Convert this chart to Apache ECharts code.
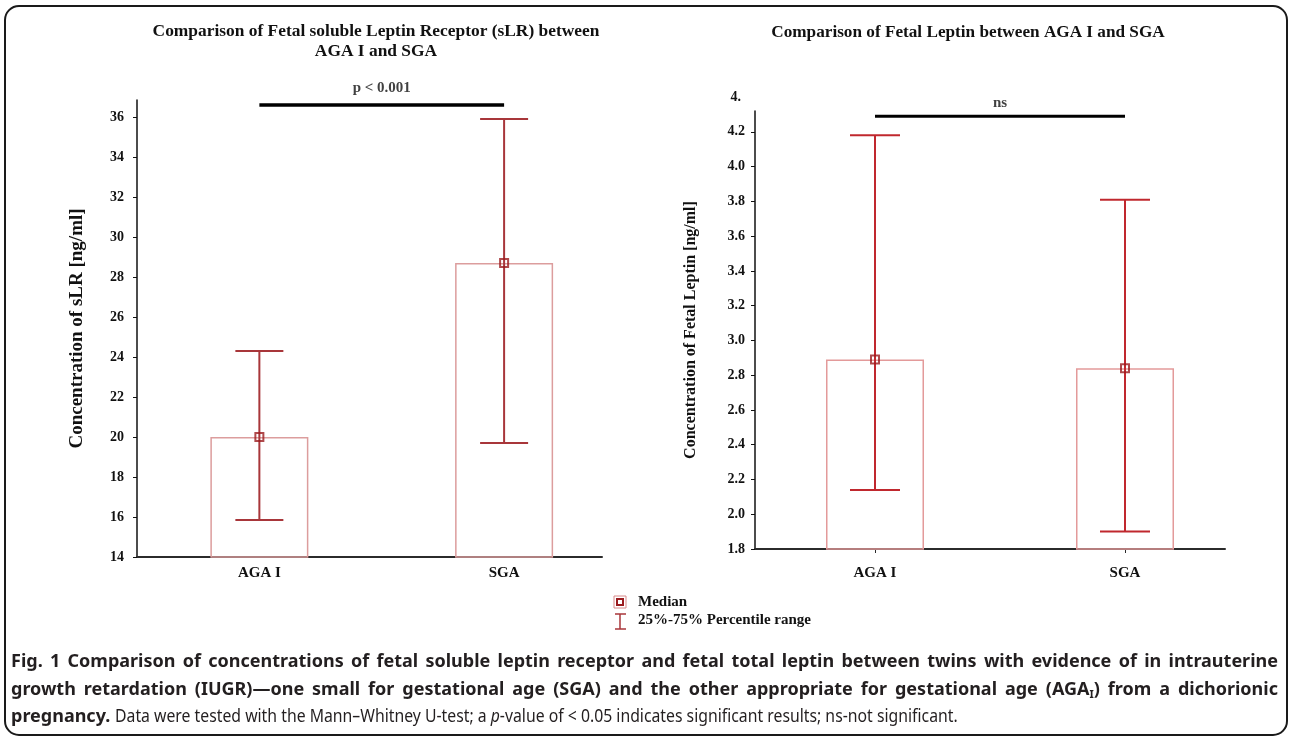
<!DOCTYPE html>
<html>
<head>
<meta charset="utf-8">
<script src="https://cdn.jsdelivr.net/npm/echarts@6.0.0/dist/echarts.min.js"></script>
<style>
html,body{margin:0;padding:0;background:#fff;}
#main{position:absolute;left:0;top:0;width:1290px;height:738px;}
#caption{position:absolute;left:11px;top:647px;width:1267px;font-family:"Noto Sans",sans-serif;font-size:18px;line-height:27.5px;color:#231f20;}
#caption .j{text-align:justify;text-align-last:justify;font-weight:bold;white-space:normal;}
#caption b{font-weight:bold;}
#caption sub{font-size:11px;line-height:0;vertical-align:-3px;}
#caption .thin{display:inline-block;transform:scaleX(0.877);transform-origin:left center;white-space:nowrap;}
</style>
</head>
<body>
<div id="main"></div>
<div id="caption">
<div class="j">Fig. 1 Comparison of concentrations of fetal soluble leptin receptor and fetal total leptin between twins with evidence of in intrauterine</div>
<div class="j">growth retardation (IUGR)—one small for gestational age (SGA) and the other appropriate for gestational age (AGA<sub>I</sub>) from a dichorionic</div>
<div style="white-space:nowrap"><b>pregnancy.</b> <span class="thin">Data were tested with the Mann–Whitney U-test; a <i>p</i>-value of &lt; 0.05 indicates significant results; ns-not significant.</span></div>
</div>
<script>
var categories = ['AGA I', 'SGA'];

// soluble leptin receptor (ng/ml)
var slrMedian = [20.0, 28.7];
var slrLow = [15.85, 19.7];
var slrHigh = [24.3, 35.9];
var slrTicks = [14, 16, 18, 20, 22, 24, 26, 28, 30, 32, 34, 36];
var slrSig = 36.6;

// fetal leptin (ng/ml)
var leptinMedian = [2.89, 2.84];
var leptinLow = [2.14, 1.90];
var leptinHigh = [4.18, 3.81];
var leptinTicks = ['1.8', '2.0', '2.2', '2.4', '2.6', '2.8', '3.0', '3.2', '3.4', '3.6', '3.8', '4.0', '4.2'];
var leptinSig = 4.29;

var serif = '"Liberation Serif", "Times New Roman", serif';

function pairs(vals) {
	return vals.map(function (v, i) { return [i + 1, v]; });
}
function ranges(lo, hi) {
	return lo.map(function (v, i) { return [i + 1, v, hi[i]]; });
}
function errorBar(capW, color, width) {
	return function (params, api) {
		var x = api.value(0);
		var lo = api.coord([x, api.value(1)]);
		var hi = api.coord([x, api.value(2)]);
		var st = { stroke: color, lineWidth: width };
		return {
			type: 'group',
			children: [
				{ type: 'line', shape: { x1: lo[0], y1: lo[1], x2: hi[0], y2: hi[1] }, style: st },
				{ type: 'line', shape: { x1: lo[0] - capW / 2, y1: lo[1], x2: lo[0] + capW / 2, y2: lo[1] }, style: st },
				{ type: 'line', shape: { x1: hi[0] - capW / 2, y1: hi[1], x2: hi[0] + capW / 2, y2: hi[1] }, style: st }
			]
		};
	};
}
function xAxisOf(grid, min, max, margin, ticks) {
	return {
		gridIndex: grid, type: 'value', min: min, max: max,
		axisLine: { show: true, lineStyle: { color: '#2b2b2b', width: 2 } },
		axisTick: { show: ticks, customValues: [1, 2], length: 4, lineStyle: { color: '#2b2b2b' } },
		axisLabel: {
			customValues: [1, 2], margin: margin, color: '#111', fontFamily: serif, fontWeight: 'bold', fontSize: 15,
			formatter: function (v) { return categories[Math.round(v) - 1]; }
		},
		splitLine: { show: false }
	};
}
function yAxisOf(grid, min, max, ticks, name, gap, margin, nameSize) {
	return {
		gridIndex: grid, type: 'value', min: min, max: max,
		name: name, nameLocation: 'middle', nameGap: gap,
		nameTextStyle: { color: '#111', fontFamily: serif, fontWeight: 'bold', fontSize: nameSize },
		axisLine: { show: true, lineStyle: { color: '#111', width: 1.5 } },
		axisTick: { show: true, customValues: ticks.map(Number), length: 4, lineStyle: { color: '#111' } },
		axisLabel: {
			customValues: ticks.map(Number), margin: margin, color: '#111', fontFamily: serif, fontWeight: 'bold', fontSize: 14,
			formatter: function (v) {
				var i = ticks.map(Number).indexOf(v);
				return i >= 0 ? String(ticks[i]) : '';
			}
		},
		splitLine: { show: false }
	};
}

var chart = echarts.init(document.getElementById('main'));
var option = {
	animation: false,
	title: [
		{
			text: 'Comparison of Fetal soluble Leptin Receptor (sLR) between\nAGA I and SGA',
			left: 371, top: 17, textAlign: 'center',
			textStyle: { fontFamily: serif, fontWeight: 'bold', fontSize: 17.4, color: '#111', lineHeight: 20 }
		},
		{
			text: 'Comparison of Fetal Leptin between AGA I and SGA',
			left: 963, top: 18, textAlign: 'center',
			textStyle: { fontFamily: serif, fontWeight: 'bold', fontSize: 17.2, color: '#111', lineHeight: 20 }
		}
	],
	grid: [
		{ left: 137, top: 100, width: 465, height: 457 },
		{ left: 755, top: 111, width: 470, height: 438 }
	],
	xAxis: [
		xAxisOf(0, 0.5, 2.4, 9, false),
		xAxisOf(1, 0.52, 2.4, 17, true)
	],
	yAxis: [
		yAxisOf(0, 14, 36.85, slrTicks, 'Concentration of sLR [ng/ml]', 50, 13, 19),
		yAxisOf(1, 1.8, 4.32, leptinTicks, 'Concentration of Fetal Leptin [ng/ml]', 56, 10, 16)
	],
	series: [
		{
			type: 'bar', xAxisIndex: 0, yAxisIndex: 0, barWidth: 98, data: pairs(slrMedian),
			itemStyle: { color: 'rgba(255,255,255,0)', borderColor: '#dc9d9d', borderWidth: 1.5 }, z: 1
		},
		{
			type: 'custom', xAxisIndex: 0, yAxisIndex: 0, data: ranges(slrLow, slrHigh),
			encode: { x: 0, y: [1, 2] }, renderItem: errorBar(48, '#a8363a', 2), z: 3
		},
		{
			type: 'scatter', xAxisIndex: 0, yAxisIndex: 0, data: pairs(slrMedian), symbol: 'rect', symbolSize: 8,
			itemStyle: { color: 'rgba(0,0,0,0)', borderColor: '#9b1b1e', borderWidth: 2 }, z: 5
		},
		{
			type: 'line', xAxisIndex: 0, yAxisIndex: 0, data: [[1, slrSig], [2, slrSig]], symbol: 'none',
			lineStyle: { color: '#000', width: 3.5 }, clip: false, z: 4
		},
		{
			type: 'scatter', xAxisIndex: 0, yAxisIndex: 0, data: [[1.5, slrSig]], symbolSize: 0, clip: false,
			label: { show: true, position: 'top', distance: 9, formatter: 'p < 0.001', color: '#111', fontFamily: serif, fontWeight: 'bold', fontSize: 15 }
		},
		{
			type: 'bar', xAxisIndex: 1, yAxisIndex: 1, barWidth: 98, data: pairs(leptinMedian),
			itemStyle: { color: 'rgba(255,255,255,0)', borderColor: '#e39a9a', borderWidth: 1.5 }, z: 1
		},
		{
			type: 'custom', xAxisIndex: 1, yAxisIndex: 1, data: ranges(leptinLow, leptinHigh),
			encode: { x: 0, y: [1, 2] }, renderItem: errorBar(50, '#c0282e', 2), z: 3
		},
		{
			type: 'scatter', xAxisIndex: 1, yAxisIndex: 1, data: pairs(leptinMedian), symbol: 'rect', symbolSize: 8,
			itemStyle: { color: 'rgba(0,0,0,0)', borderColor: '#9b1b1e', borderWidth: 2 }, z: 5
		},
		{
			type: 'line', xAxisIndex: 1, yAxisIndex: 1, data: [[1, leptinSig], [2, leptinSig]], symbol: 'none',
			lineStyle: { color: '#000', width: 3 }, clip: false, z: 4
		},
		{
			type: 'scatter', xAxisIndex: 1, yAxisIndex: 1, data: [[1.5, leptinSig]], symbolSize: 0, clip: false,
			label: { show: true, position: 'top', distance: 6, formatter: 'ns', color: '#111', fontFamily: serif, fontWeight: 'bold', fontSize: 15 }
		}
	],
	graphic: [
		{
			type: 'rect', shape: { x: 5, y: 6, width: 1282, height: 729, r: 14 },
			style: { fill: 'none', stroke: '#1a1a1a', lineWidth: 2 }, silent: true
		},
		// stray top label of the leptin axis
		{
			type: 'text', x: 741, y: 97,
			style: { text: '4.', align: 'right', verticalAlign: 'middle', fill: '#111', font: 'bold 14px ' + serif }
		},
		// legend
		{ type: 'rect', shape: { x: 614, y: 596, width: 12, height: 12 }, style: { fill: 'none', stroke: '#d88a8a', lineWidth: 1 } },
		{ type: 'rect', shape: { x: 617, y: 599, width: 6, height: 6 }, style: { fill: 'none', stroke: '#9b1b1e', lineWidth: 2 } },
		{ type: 'line', shape: { x1: 620, y1: 614, x2: 620, y2: 629 }, style: { stroke: '#a8363a', lineWidth: 1.5 } },
		{ type: 'line', shape: { x1: 615, y1: 614, x2: 626, y2: 614 }, style: { stroke: '#a8363a', lineWidth: 1.5 } },
		{ type: 'line', shape: { x1: 615, y1: 629, x2: 626, y2: 629 }, style: { stroke: '#a8363a', lineWidth: 1.5 } },
		{
			type: 'text', x: 638, y: 602,
			style: { text: 'Median', verticalAlign: 'middle', fill: '#111', font: 'bold 15px ' + serif }
		},
		{
			type: 'text', x: 638, y: 620,
			style: { text: '25%-75% Percentile range', verticalAlign: 'middle', fill: '#111', font: 'bold 15px ' + serif }
		}
	]
};
chart.setOption(option);
</script>
</body>
</html>
